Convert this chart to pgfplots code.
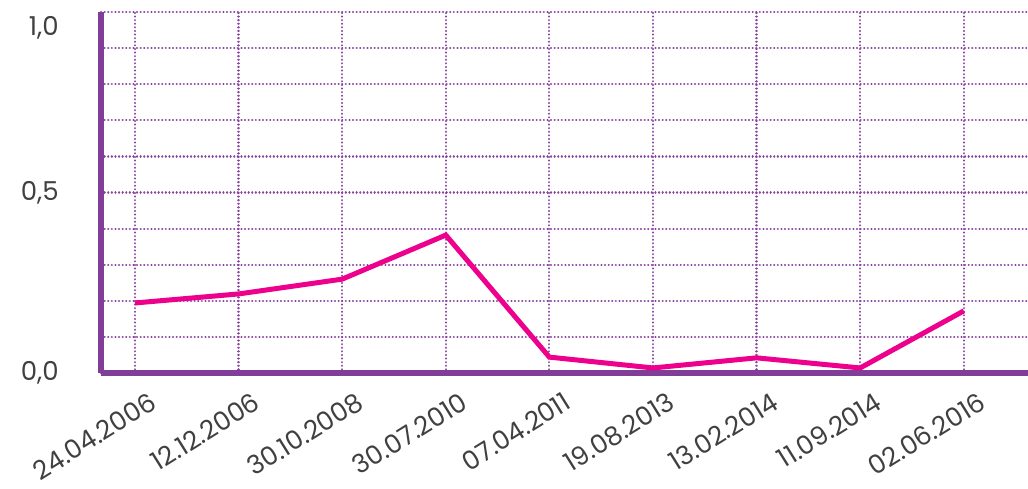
\documentclass[border=0pt]{standalone}
\usepackage{pgfplots}
\pgfplotsset{compat=1.18}
\usepackage{fontspec}
\setmainfont{Poppins}
\definecolor{axpurple}{RGB}{128,62,152}
\definecolor{gridpurple}{RGB}{136,66,158}
\definecolor{linemag}{RGB}{236,0,140}
\definecolor{txt}{RGB}{64,64,64}
\begin{document}
\begin{tikzpicture}
\begin{axis}[
  scale only axis,
  width=463.5pt, height=180.5pt,
  xmin=-0.328, xmax=8.62,
  ymin=0, ymax=1,
  axis x line*=bottom, axis y line*=left,
  axis line style={axpurple, line width=2.8pt, -},
  xtick={0,1,2,3,4,5,6,7,8},
  xticklabels={24.04.2006,12.12.2006,30.10.2008,30.07.2010,07.04.2011,19.08.2013,13.02.2014,11.09.2014,02.06.2016},
  ytick={0,0.5},
  minor ytick={0.1,0.2,0.3,0.4,0.6,0.7,0.8,0.9},
  extra y ticks={1},
  extra y tick style={grid=major, yticklabel style={yshift=-8pt}},
  grid=both,
  major grid style={gridpurple, line width=1.1pt, line cap=round, dash pattern=on 0.05pt off 1.75pt},
  minor grid style={gridpurple, line width=1.1pt, line cap=round, dash pattern=on 0.05pt off 1.75pt},
  major tick length=0pt, minor tick length=0pt,
  tick label style={font=\fontsize{13}{15}\selectfont, text=txt},
  /pgf/number format/assume math mode=true,
  yticklabel style={/pgf/number format/.cd, fixed, fixed zerofill, precision=1, use comma, /tikz/.cd, anchor=east, inner sep=0pt, xshift=-21pt},
  xticklabel style={rotate=32, anchor=north east, inner sep=0pt, xshift=1pt, yshift=-11pt},
  clip=false,
]
\addplot[linemag, line width=2.5pt, line join=miter] coordinates {
  (0,0.194) (1,0.219) (2,0.260) (3,0.382) (4,0.044) (5,0.014) (6,0.042) (7,0.014) (8,0.172)
};
\end{axis}
\pgfresetboundingbox
\useasboundingbox (-50.5pt,-57.5pt) rectangle (463.5pt,186.5pt);
\end{tikzpicture}
\end{document}
